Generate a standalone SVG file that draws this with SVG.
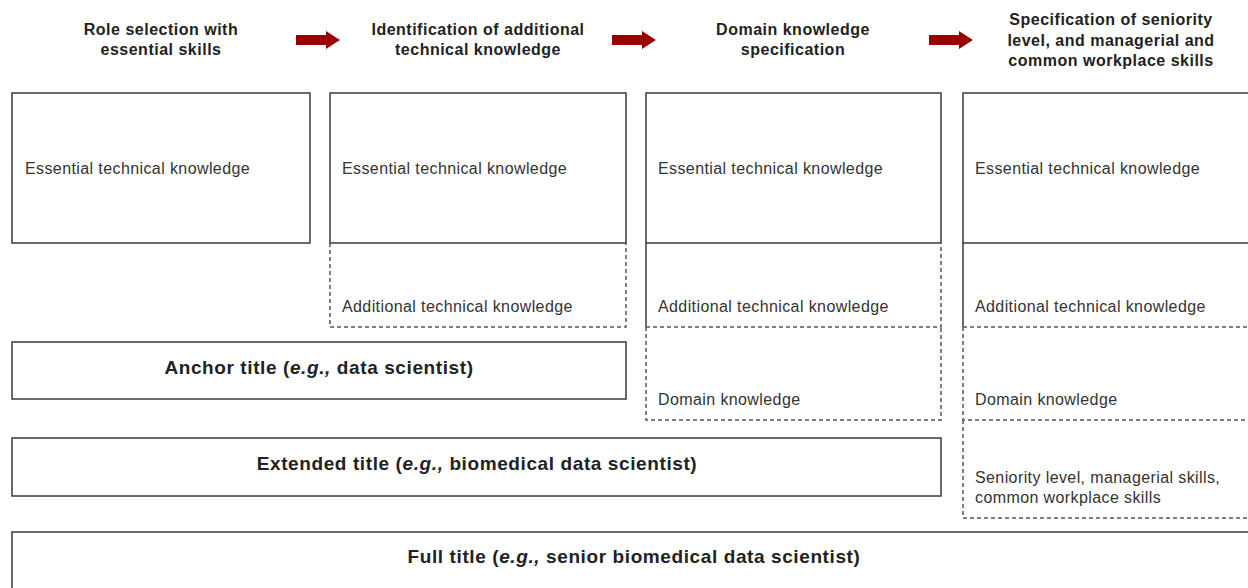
<svg xmlns="http://www.w3.org/2000/svg" width="1248" height="588" viewBox="0 0 1248 588">
  <defs>
    <style>
      .box { fill: #ffffff; stroke: #3a3a3a; stroke-width: 1.5; }
      .solid { fill: none; stroke: #3a3a3a; stroke-width: 1.5; }
      .dash { fill: none; stroke: #555555; stroke-width: 1.5; stroke-dasharray: 4 3; }
      .head { font-family: "Liberation Sans", Arial, sans-serif; font-size: 16px; letter-spacing: 0.5px; font-weight: bold; fill: #222222; text-anchor: middle; }
      .lbl { font-family: "Liberation Sans", Arial, sans-serif; font-size: 16px; letter-spacing: 0.4px; fill: #333333; }
      .title { font-family: "Liberation Sans", Arial, sans-serif; font-size: 19px; letter-spacing: 0.6px; font-weight: bold; fill: #222222; text-anchor: middle; }
      .arrow { fill: #990000; }
    </style>
    <path id="step-arrow" d="M0,-5 H30 V-9 L44,0 L30,9 V5 H0 Z"/>
  </defs>
  <rect width="1248" height="588" fill="#ffffff"/>

  <!-- step headers -->
  <g id="header-role">
    <text class="head" x="161" y="35">Role selection with</text>
    <text class="head" x="161" y="55">essential skills</text>
  </g>
  <g id="header-additional">
    <text class="head" x="478" y="35">Identification of additional</text>
    <text class="head" x="478" y="55">technical knowledge</text>
  </g>
  <g id="header-domain">
    <text class="head" x="793" y="35">Domain knowledge</text>
    <text class="head" x="793" y="55">specification</text>
  </g>
  <g id="header-seniority">
    <text class="head" x="1111" y="25">Specification of seniority</text>
    <text class="head" x="1111" y="46">level, and managerial and</text>
    <text class="head" x="1111" y="66">common workplace skills</text>
  </g>

  <!-- arrows between steps -->
  <g id="connectors">
    <use href="#step-arrow" class="arrow" x="296" y="40"/>
    <use href="#step-arrow" class="arrow" x="612" y="40"/>
    <use href="#step-arrow" class="arrow" x="929" y="40"/>
  </g>

  <!-- column 1 -->
  <g id="col1-essential">
    <rect class="box" x="12" y="93" width="298" height="150"/>
    <text class="lbl" x="25" y="174">Essential technical knowledge</text>
  </g>

  <!-- column 2 -->
  <g id="col2-essential">
    <rect class="box" x="330" y="93" width="296" height="150"/>
    <text class="lbl" x="342" y="174">Essential technical knowledge</text>
  </g>
  <g id="col2-additional">
    <path class="dash" d="M330,243 V327 H626 V243"/>
    <text class="lbl" x="342" y="312">Additional technical knowledge</text>
  </g>

  <!-- column 3 -->
  <g id="col3-essential">
    <rect class="box" x="646" y="93" width="295" height="150"/>
    <text class="lbl" x="658" y="174">Essential technical knowledge</text>
  </g>
  <g id="col3-additional">
    <path class="solid" d="M646,243 V327"/>
    <path class="dash" d="M646,327 H941 V243"/>
    <text class="lbl" x="658" y="312">Additional technical knowledge</text>
  </g>
  <g id="col3-domain">
    <path class="dash" d="M646,327 V420 H941 V327"/>
    <text class="lbl" x="658" y="405">Domain knowledge</text>
  </g>

  <!-- column 4 -->
  <g id="col4-essential">
    <rect class="box" x="963" y="93" width="300" height="150"/>
    <text class="lbl" x="975" y="174">Essential technical knowledge</text>
  </g>
  <g id="col4-additional">
    <path class="solid" d="M963,243 V327"/>
    <path class="dash" d="M963,327 H1250"/>
    <text class="lbl" x="975" y="312">Additional technical knowledge</text>
  </g>
  <g id="col4-domain">
    <path class="dash" d="M963,327 V420 H1250"/>
    <text class="lbl" x="975" y="405">Domain knowledge</text>
  </g>
  <g id="col4-seniority">
    <path class="dash" d="M963,420 V518 H1250"/>
    <text class="lbl" x="975" y="483">Seniority level, managerial skills,</text>
    <text class="lbl" x="975" y="503">common workplace skills</text>
  </g>

  <!-- title rows -->
  <g id="anchor-title">
    <rect class="box" x="12" y="342" width="614" height="57"/>
    <text class="title" x="319" y="374">Anchor title (<tspan font-style="italic">e.g.,</tspan> data scientist)</text>
  </g>
  <g id="extended-title">
    <rect class="box" x="12" y="438" width="929" height="58"/>
    <text class="title" x="477" y="470">Extended title (<tspan font-style="italic">e.g.,</tspan> biomedical data scientist)</text>
  </g>
  <g id="full-title">
    <rect class="box" x="12" y="532" width="1250" height="70"/>
    <text class="title" x="634" y="563">Full title (<tspan font-style="italic">e.g.,</tspan> senior biomedical data scientist)</text>
  </g>
</svg>
